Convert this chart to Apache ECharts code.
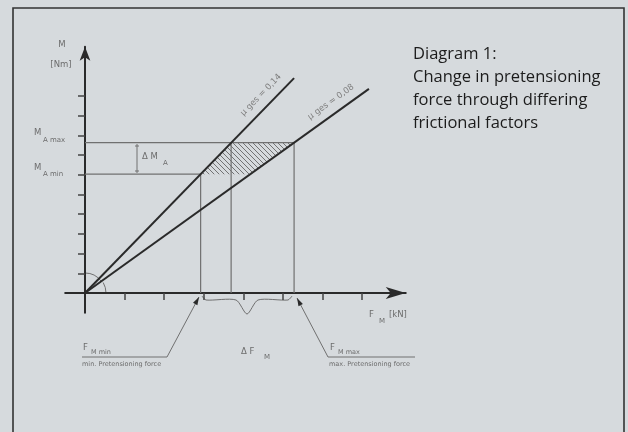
<!DOCTYPE html>
<html><head><meta charset="utf-8">
<script src="https://cdn.jsdelivr.net/npm/echarts@6/dist/echarts.min.js"></script>
<style>html,body{margin:0;padding:0;background:#d6dadd;}#c{width:628px;height:432px;}</style>
</head><body><div id="c"></div>
<script>
// Axis ticks (in tick units)
const xTicks = [1, 2, 3, 4, 5, 6, 7];
const yTicks = [1, 2, 3, 4, 5, 6, 7, 8, 9, 10];
// Characteristic lines M = f(F_M)
const lineSteep = [[0, 0], [5.28, 10.91]];     // μges = 0,14
const lineShallow = [[0, 0], [7.17, 10.36]];   // μges = 0,08
// Helper lines
const mMaxLine = [[0, 7.63], [5.28, 7.63]];
const mMinLine = [[0, 6.03], [2.92, 6.03]];
const vLineFmin = [[2.92, 0], [2.92, 6.03]];
const vLineMid = [[3.69, 0], [3.69, 7.63]];
const vLineFmax = [[5.28, 0], [5.28, 7.63]];
const hatchArea = [[3.69, 7.63], [5.28, 7.63], [4.17, 6.03], [2.92, 6.03]];
// Texts
const titleLines = ['Diagram 1:', 'Change in pretensioning', 'force through differing', 'frictional factors'];
const steepLabel = 'μ ges = 0,14';
const shallowLabel = 'μ ges = 0,08';

const pc = document.createElement('canvas'); pc.width = 5; pc.height = 5;
const g = pc.getContext('2d'); g.strokeStyle = '#666'; g.lineWidth = 0.9;
g.beginPath(); g.moveTo(-1, -1); g.lineTo(6, 6); g.moveTo(-1, 4); g.lineTo(1, 6); g.moveTo(4, -1); g.lineTo(6, 1); g.stroke();

const chart = echarts.init(document.getElementById('c'), null, {renderer: 'canvas'});
const dark = '#2a2a2a', helper = '#707070', small = '#6c6c6c';
const smallFont = '8.5px "DejaVu Sans"', subFont = '7px "DejaVu Sans"', tinyFont = '6.5px "DejaVu Sans"';
function lineS(data, color, width, z) {
  return {type: 'line', data: data, symbol: 'none', silent: true, z: z || 2,
    lineStyle: {color: color, width: width}, animation: false};
}
function txt(x, y, t, opt, extra) {
  return Object.assign({type: 'text', x: x, y: y, silent: true, z: 50,
    style: Object.assign({text: t, font: smallFont, fill: small, align: 'left', verticalAlign: 'middle'}, (opt || {}))}, extra || {});
}
function rad(d) { return d * Math.PI / 180; }

chart.setOption({
  backgroundColor: '#d6dadd',
  animation: false,
  grid: {left: 65.2, right: 222.24, top: 46.75, bottom: 119.3},
  xAxis: {type: 'value', min: -0.5, max: 8.1,
    axisLine: {onZero: true, lineStyle: {color: dark, width: 2}, symbol: ['none', 'arrow'], symbolSize: [9, 20]},
    axisTick: {show: true, customValues: xTicks, length: 7, lineStyle: {color: '#444', width: 1.5}},
    axisLabel: {show: false}, splitLine: {show: false}},
  yAxis: {type: 'value', min: -1, max: 12.5,
    axisLine: {onZero: true, lineStyle: {color: dark, width: 2}, symbol: ['none', 'arrow'], symbolSize: [8, 14]},
    axisTick: {show: true, customValues: yTicks, length: 7, lineStyle: {color: '#444', width: 1.5}},
    axisLabel: {show: false}, splitLine: {show: false}},
  series: [
    {type: 'custom', data: [[0, 0]], clip: false, silent: true, z: 1,
      renderItem: function (params, api) {
        return {type: 'polygon', shape: {points: hatchArea.map(function (p) { return api.coord(p); })},
          style: {fill: {image: pc, repeat: 'repeat'}, stroke: null}};
      }},
    lineS(mMaxLine, helper, 1.2), lineS(mMinLine, helper, 1.2),
    lineS(vLineFmin, helper, 1.2), lineS(vLineMid, helper, 1.2), lineS(vLineFmax, helper, 1.2),
    lineS(lineSteep, dark, 2, 5), lineS(lineShallow, dark, 2, 5)
  ],
  graphic: [
    {type: 'rect', shape: {x: 13, y: 8, width: 611, height: 500}, style: {fill: null, stroke: '#333', lineWidth: 1.6}, silent: true},
    {type: 'text', x: 413, y: 43, silent: true,
      style: {text: titleLines.join('\n'), font: '16.5px "Open Sans"', lineHeight: 23, fill: '#1c1c1c'}},
    txt(261, 95, steepLabel, {align: 'center', font: '8.5px "DejaVu Sans"', fill: '#808080'}, {rotation: rad(45.8)}),
    txt(331, 102, shallowLabel, {align: 'center', font: '8.5px "DejaVu Sans"', fill: '#808080'}, {rotation: rad(35.7)}),
    // y label
    txt(62, 45, 'M', {align: 'center'}), txt(61, 65, '[Nm]', {align: 'center'}),
    txt(34, 133, 'M'), txt(43, 140, 'A max', {font: subFont}),
    txt(34, 168, 'M'), txt(43, 174, 'A min', {font: subFont}),
    // delta M
    {type: 'line', shape: {x1: 137, y1: 144, x2: 137, y2: 173}, style: {stroke: helper, lineWidth: 1}, silent: true},
    {type: 'line', shape: {x1: 135, y1: 146, x2: 139, y2: 146}, style: {stroke: helper, lineWidth: 1}, silent: true},
    {type: 'line', shape: {x1: 135, y1: 171, x2: 139, y2: 171}, style: {stroke: helper, lineWidth: 1}, silent: true},
    txt(142, 157, 'Δ M'), txt(163, 163, 'A', {font: subFont}),
    // x label
    txt(369, 315, 'F'), txt(379, 321, 'M', {font: subFont}), txt(389, 315, '[kN]'),
    // angle arcs
    {type: 'arc', shape: {cx: 85, cy: 293, r: 20, startAngle: rad(-90), endAngle: rad(-36), clockwise: true}, style: {stroke: helper, lineWidth: 1, fill: null}, silent: true},
    {type: 'arc', shape: {cx: 85, cy: 293, r: 21, startAngle: rad(-30), endAngle: 0, clockwise: true}, style: {stroke: helper, lineWidth: 1, fill: null}, silent: true},
    // brace
    {type: 'polyline', shape: {points: [[202, 296], [206, 300], [236, 300], [247, 314], [258, 300], [288, 300], [292, 296]], smooth: 0.25}, style: {stroke: helper, lineWidth: 1, fill: null}, silent: true},
    txt(241, 352, 'Δ F'), txt(264, 357, 'M', {font: subFont}),
    // left leader
    {type: 'polyline', shape: {points: [[82, 357], [167, 357], [199, 297]]}, style: {stroke: helper, lineWidth: 1, fill: null}, silent: true},
    {type: 'polygon', shape: {points: [[199, 297], [197.4, 305.2], [193, 302.8]]}, style: {fill: dark}, silent: true},
    txt(83, 348, 'F'), txt(91, 352, 'M min', {font: tinyFont}),
    txt(82, 364, 'min. Pretensioning force', {font: tinyFont}),
    // right leader
    {type: 'polyline', shape: {points: [[415, 357], [328, 357], [297, 298]]}, style: {stroke: helper, lineWidth: 1, fill: null}, silent: true},
    {type: 'polygon', shape: {points: [[297, 298], [302.9, 303.9], [298.5, 306.3]]}, style: {fill: dark}, silent: true},
    txt(330, 348, 'F'), txt(338, 352, 'M max', {font: tinyFont}),
    txt(329, 364, 'max. Pretensioning force', {font: tinyFont})
  ]
});
</script></body></html>
